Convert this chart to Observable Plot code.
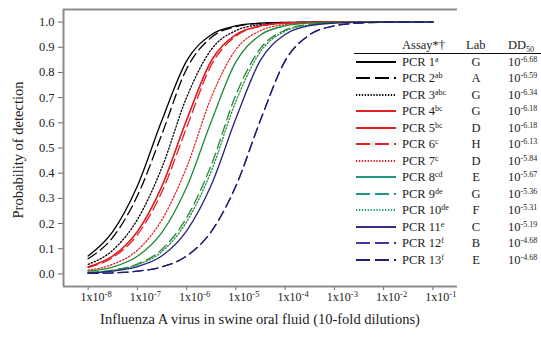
<!DOCTYPE html>
<html><head><meta charset="utf-8">
<script src="https://cdn.jsdelivr.net/npm/d3@7"></script>
<script src="https://cdn.jsdelivr.net/npm/@observablehq/plot@0.6"></script>
<style>
body{margin:0;background:#fff;}
#wrap{position:relative;width:541px;height:337px;font-family:"Liberation Serif","Times New Roman",serif;color:#222;}
#wrap svg text{font-family:"Liberation Serif","Times New Roman",serif;}
.lg{position:absolute;font-size:12.5px;line-height:16px;height:16px;white-space:nowrap;color:#222;}
.sp{font-size:8px;position:relative;top:-4px;}
.sb{font-size:8px;position:relative;top:3px;}
</style></head><body><div id="wrap"></div>
<script>
// log10 of dilution at which curve values were read
const dilutions = [-8,-7.5,-7,-6.5,-6,-5.5,-5,-4.5,-4,-3.5,-3,-2.5,-2,-1.5,-1];
const xTicks = [-8,-7,-6,-5,-4,-3,-2,-1];
const yTicks = [0,0.1,0.2,0.3,0.4,0.5,0.6,0.7,0.8,0.9,1.0];

const assays = ["PCR 1","PCR 2","PCR 3","PCR 4","PCR 5","PCR 6","PCR 7","PCR 8","PCR 9","PCR 10","PCR 11","PCR 12","PCR 13"];
const letters = ["a","ab","abc","bc","bc","c","c","cd","de","de","e","f","f"];
const labs = ["G","A","G","G","D","H","D","E","G","F","C","B","E"];
const dd50 = ["-6.68","-6.59","-6.34","-6.18","-6.18","-6.13","-5.84","-5.67","-5.36","-5.31","-5.19","-4.68","-4.68"];

const pcr1  = [0.071,0.168,0.349,0.611,0.846,0.950,0.985,0.996,0.999,1.000,1.000,1.000,1.000,1.000,1.000];
const pcr2  = [0.060,0.145,0.310,0.556,0.814,0.939,0.982,0.995,0.998,1.000,1.000,1.000,1.000,1.000,1.000];
const pcr3  = [0.038,0.094,0.216,0.423,0.701,0.891,0.966,0.990,0.997,0.999,1.000,1.000,1.000,1.000,1.000];
const pcr4  = [0.028,0.071,0.168,0.349,0.611,0.846,0.950,0.985,0.996,0.999,1.000,1.000,1.000,1.000,1.000];
const pcr5  = [0.028,0.071,0.168,0.349,0.611,0.846,0.950,0.985,0.996,0.999,1.000,1.000,1.000,1.000,1.000];
const pcr6  = [0.025,0.065,0.155,0.327,0.581,0.829,0.944,0.983,0.995,0.999,1.000,1.000,1.000,1.000,1.000];
const pcr7  = [0.015,0.038,0.094,0.216,0.423,0.701,0.891,0.966,0.990,0.997,0.999,1.000,1.000,1.000,1.000];
const pcr8  = [0.011,0.027,0.070,0.165,0.344,0.605,0.842,0.949,0.985,0.996,0.999,1.000,1.000,1.000,1.000];
const pcr9  = [0.006,0.015,0.039,0.098,0.223,0.432,0.711,0.896,0.968,0.991,0.997,0.999,1.000,1.000,1.000];
const pcr10 = [0.005,0.014,0.036,0.089,0.207,0.408,0.685,0.883,0.964,0.989,0.997,0.999,1.000,1.000,1.000];
const pcr11 = [0.004,0.011,0.029,0.072,0.171,0.353,0.617,0.849,0.951,0.986,0.996,0.999,1.000,1.000,1.000];
const pcr12 = [0.002,0.004,0.011,0.028,0.071,0.168,0.349,0.611,0.846,0.950,0.985,0.996,0.999,1.000,1.000];
const pcr13 = [0.002,0.004,0.011,0.028,0.071,0.168,0.349,0.611,0.846,0.950,0.985,0.996,0.999,1.000,1.000];
const values = [pcr1,pcr2,pcr3,pcr4,pcr5,pcr6,pcr7,pcr8,pcr9,pcr10,pcr11,pcr12,pcr13];

const curveColors  = ["#000","#000","#000","#e41f26","#e41f26","#e41f26","#e41f26","#24883c","#24883c","#24883c","#24247a","#2a2280","#1f1f70"];
const legendColors = ["#000","#000","#000","#e41f26","#e41f26","#e41f26","#e41f26","#1f9a80","#1f9a80","#1f9a80","#3a2a8a","#4a34a6","#1f1f6e"];
const styles = ["solid","dash","dot","solid","solid","dash","dot","solid","dash","dot","solid","dash","dash"];
const dashCurve = {solid:null, dash:"10,5", dot:"1.3,2"};
const dashLegend = {solid:null, dash:"14,5", dot:"1.3,1.6"};

const rows = assays.map((a,i)=>dilutions.map((d,j)=>({assay:a, x:Math.pow(10,d), p:values[i][j]})));

const W=541,H=337;
const chart = Plot.plot({
  width:W, height:H,
  marginLeft:63, marginRight:84, marginTop:9, marginBottom:51,
  style:{fontFamily:"Liberation Serif, Times New Roman, serif", fontSize:"12px", background:"white", color:"#222", overflow:"visible"},
  x:{type:"log", domain:[Math.pow(10,-8.5), Math.pow(10,-0.5)]},
  y:{domain:[-0.05,1.05]},
  marks:[
    Plot.axisX(xTicks.map(t=>Math.pow(10,t)), {tickSize:4, tickPadding:2, tickFormat:d=>"1x10^"+Math.round(Math.log10(d)), label:null, stroke:"#666", fontSize:12}),
    Plot.axisY(yTicks, {tickSize:5, tickPadding:4, tickFormat:d3.format(".1f"), label:null, stroke:"#666", fontSize:12.5}),
    Plot.ruleY([-0.05,1.05], {stroke:"#8c8c8c", strokeWidth:2}),
    Plot.ruleX([Math.pow(10,-8.5)], {stroke:"#8c8c8c", strokeWidth:2}),
    ...rows.map((r,i)=>Plot.line(r, {x:"x", y:"p", curve:"monotone-x", stroke:curveColors[i], strokeWidth:1.3, strokeDasharray:dashCurve[styles[i]]}))
  ]
});

const wrap = document.getElementById("wrap");
wrap.appendChild(chart);
const svg = d3.select(chart);

// superscript exponents on x tick labels
svg.selectAll("g[aria-label='x-axis tick label'] text").each(function(){
  const t = d3.select(this);
  const s = t.text();
  const [base, ex] = s.split("^");
  t.text(null).attr("dx", 8);
  t.append("tspan").text(base);
  t.append("tspan").attr("dy","-0.45em").attr("font-size","8.5px").text(ex);
});

// axis titles
svg.append("text").attr("x",260).attr("y",324).attr("text-anchor","middle")
  .attr("font-size","14.5px").attr("fill","#222").text("Influenza A virus in swine oral fluid (10-fold dilutions)");
svg.append("text").attr("transform","translate(23,150) rotate(-90)").attr("text-anchor","middle")
  .attr("font-size","14.5px").attr("fill","#222").text("Probability of detection");

// legend table
function el(html, left, top, extra){
  const d=document.createElement("div"); d.className="lg"; d.innerHTML=html;
  d.style.left=left+"px"; d.style.top=top+"px"; if(extra) Object.assign(d.style, extra);
  wrap.appendChild(d); return d;
}
const headTop = 37;
el("Assay*†", 402, headTop);
el("Lab", 466, headTop);
el("DD<span class='sb'>50</span>", 508, headTop);
const hl=document.createElement("div");
Object.assign(hl.style,{position:"absolute",left:"354px",top:"53px",width:"187px",height:"1px",background:"#111"});
wrap.appendChild(hl);

assays.forEach((a,i)=>{
  const yc = 61.5 + 16.5*i;
  const ns="http://www.w3.org/2000/svg";
  const s=document.createElementNS(ns,"svg");
  s.setAttribute("width",44); s.setAttribute("height",6);
  Object.assign(s.style,{position:"absolute",left:"355px",top:(yc-3)+"px"});
  const ln=document.createElementNS(ns,"line");
  ln.setAttribute("x1",1); ln.setAttribute("x2",41); ln.setAttribute("y1",3); ln.setAttribute("y2",3);
  ln.setAttribute("stroke",legendColors[i]); ln.setAttribute("stroke-width",2);
  const da=dashLegend[styles[i]]; if(da) ln.setAttribute("stroke-dasharray",da);
  s.appendChild(ln); wrap.appendChild(s);
  el(a+"<span class='sp'>"+letters[i]+"</span>", 402, yc-8);
  el(labs[i], 466, yc-8, {width:"20px", textAlign:"center"});
  el("10<span class='sp'>"+dd50[i]+"</span>", 508, yc-8);
});
</script>
</body></html>
